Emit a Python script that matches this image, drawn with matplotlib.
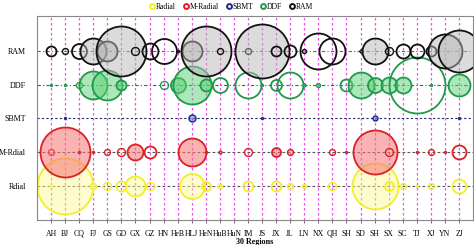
import numpy as np
import matplotlib.pyplot as plt
from matplotlib.lines import Line2D

regions = ["AH", "BJ", "CQ", "FJ", "GS", "GD", "GX", "GZ", "HN", "HeB",
           "HLJ", "HeN", "HuB", "HuN", "IM", "JS", "JX", "JL", "LN", "NX",
           "QH", "SH", "SD", "SH", "SX", "SC", "TJ", "XJ", "YN", "ZJ"]

# signed scores: magnitude -> bubble size, negative -> hollow bubble
rdial = [1.5, 28, 0, 3, -4, -5, 10, -4, 0, 0, 12.5, -4.5, 2, 0, -5,
         0, -5, 3, 2, 0, -4, 0, 0, 23, -4.5, -3, 1, -3, 0, -7]
m_rdial = [-3, 25, 1, 1, -3, -4, 8, -6, 0, 0, 14, 1, 1.5, 0, -4,
           0, 4.5, 3, 0, 0, -3, 1, 0, 22, -4, 0, 1, -3, 1, -7]
sbmt = [0, 1, 0, 0, 0, 0, 0, 0, 0, 0, 3.5, 0, 0, 0, 0,
        1, 0, 0, 0, 0, 0, 0, 0, 2.5, 0, 0, 0, 0, 0, 1]
ddf = [1, 1, -3, 14, 15, 5, 0, 0, -4, 7.5, 19, 6, -7.5, 0, -13,
       1, -5.5, -13, 1.5, 2, 0, -6, 13, 7.5, 8, 8, -28, 1, 0, 11]
ram = [-5, -3, -7.5, 13, 10, 25, -4, -8, -12.5, 1, 10, 25, -3, 0, -3,
       27, -5, -6, 2, -18, -13, 0, 1.5, 13, -4, -7, -7, -5, 17, 21]

series = [
    ("Rdial", "Radial", rdial, 1, "#f2ee2a", (0.99, 0.98, 0.55, 0.45), (0, (2.5, 2)), "#555555"),
    ("M-Rdial", "M-Radial", m_rdial, 2, "#dd1f26", (0.97, 0.45, 0.45, 0.55), (0, (2.5, 2)), "#555555"),
    ("SBMT", "SBMT", sbmt, 3, "#1c2a8c", (0.45, 0.5, 0.85, 0.6), (0, (2, 2)), "#1c2a6c"),
    ("DDF", "DDF", ddf, 4, "#1e9a4a", (0.35, 0.82, 0.45, 0.5), (0, (3, 2, 1, 2)), "#3f5f50"),
    ("RAM", "RAM", ram, 5, "#111111", (0.72, 0.72, 0.72, 0.5), (0, (3, 2, 1, 2)), "#666666"),
]

DPI = 100
px2pt = 72 / DPI

plt.rcParams["font.family"] = ["Liberation Serif", "DejaVu Serif"]

fig = plt.figure(figsize=(4.74, 2.45), dpi=DPI)
ax = fig.add_axes([0.078, 0.102, 0.92, 0.833])

x = np.arange(1, len(regions) + 1)

for xi in x:
    ax.axvline(xi, color="#e455e4", lw=0.9, ls=(0, (2, 2)), zorder=0)

for name, lab, vals, row, edge, face, ls, lcol in series:
    ax.axhline(row, color=lcol, lw=0.8, ls=ls, zorder=1)

handles = []
for name, lab, vals, row, edge, face, ls, lcol in series:
    vals = np.array(vals, dtype=float)
    for xi, v in zip(x, vals):
        if v == 0:
            continue
        s = (2 * abs(v) * px2pt) ** 2
        fc = face if v > 0 else "none"
        lw = 1.3 if abs(v) > 4 else 1.0
        ax.scatter([xi], [row], s=s, facecolors=[fc], edgecolors=[edge],
                   linewidths=lw, zorder=2)
    handles.append(Line2D([], [], ls="none", marker="o", markersize=3.5,
                          markerfacecolor="white", markeredgecolor=edge,
                          markeredgewidth=1.4, label=lab))

ax.set_xlim(0, 31)
ax.set_ylim(0, 6.03)
ax.set_xticks(x)
ax.set_xticklabels(regions, fontsize=5.6)
ax.set_yticks([1, 2, 3, 4, 5])
ax.set_yticklabels([s[0] for s in series], fontsize=5.8)
ax.tick_params(axis="x", length=2, width=0.6, pad=5, color="#555555")
ax.tick_params(axis="y", length=0, pad=8)
for sp in ax.spines.values():
    sp.set_color("#888888")
    sp.set_linewidth(0.8)
ax.set_xlabel("30 Regions", fontsize=5.8, fontweight="bold", labelpad=0)

ax.legend(handles=handles, loc="center", bbox_to_anchor=(0.445, 1.045),
          ncol=5, frameon=False, fontsize=5.5, handletextpad=0.0,
          columnspacing=0.8, borderaxespad=0, handlelength=1)

fig.savefig("out.png", dpi=DPI)
